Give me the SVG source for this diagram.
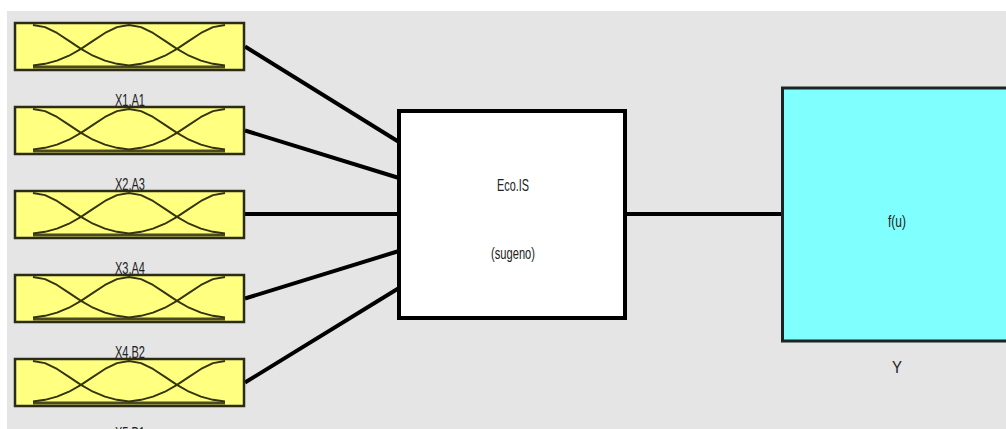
<svg xmlns="http://www.w3.org/2000/svg" width="1006" height="429" viewBox="0 0 1006 429">
<style>
.lbl{font-family:"Liberation Sans",Arial,sans-serif;fill:#222;text-anchor:middle}
.in{fill:#ffff80;stroke:#2b2b1a;stroke-width:2.5}
.mf{fill:none;stroke:#33330d;stroke-width:1.9;stroke-linejoin:round}
.base{stroke:#4a4a20;stroke-width:2.8}
.conn line{stroke:#000;stroke-width:4;stroke-linecap:butt}
</style>
<defs>
<g id="mfbox">
<rect class="in" x="1" y="1" width="229" height="47"/>
<line class="base" x1="19" y1="45" x2="211" y2="45"/>
<polyline class="mf" points="19,3 31,5.15 43,10.97 55,18.84 67,26.89 79,33.72 91,38.67 103,41.81 115,43.55"/>
<polyline class="mf" points="19,43.55 31,41.81 43,38.67 55,33.72 67,26.89 79,18.84 91,10.97 103,5.15 115,3 127,5.15 139,10.97 151,18.84 163,26.89 175,33.72 187,38.67 199,41.81 211,43.55"/>
<polyline class="mf" points="115,43.55 127,41.81 139,38.67 151,33.72 163,26.89 175,18.84 187,10.97 199,5.15 211,3"/>
</g>
</defs>
<rect x="0" y="0" width="1006" height="429" fill="#ffffff"/>
<rect x="7" y="11" width="999" height="418" fill="#e5e5e5"/>
<g class="conn" id="connectors">
<line x1="245" y1="46.5" x2="399" y2="142"/>
<line x1="245" y1="130.5" x2="399" y2="178"/>
<line x1="245" y1="214" x2="399" y2="214"/>
<line x1="245" y1="298.5" x2="399" y2="251"/>
<line x1="245" y1="382.5" x2="399" y2="288"/>
<line x1="625" y1="214" x2="783" y2="214"/>
</g>
<g id="in1"><use href="#mfbox" x="14" y="22"/><text class="lbl" x="130" y="106" font-size="16" textLength="30" lengthAdjust="spacingAndGlyphs">X1.A1</text></g>
<g id="in2"><use href="#mfbox" x="14" y="106"/><text class="lbl" x="130" y="190" font-size="16" textLength="30" lengthAdjust="spacingAndGlyphs">X2.A3</text></g>
<g id="in3"><use href="#mfbox" x="14" y="190"/><text class="lbl" x="130" y="274" font-size="16" textLength="30" lengthAdjust="spacingAndGlyphs">X3.A4</text></g>
<g id="in4"><use href="#mfbox" x="14" y="274"/><text class="lbl" x="130" y="358" font-size="16" textLength="30" lengthAdjust="spacingAndGlyphs">X4.B2</text></g>
<g id="in5"><use href="#mfbox" x="14" y="358"/><text class="lbl" x="130" y="439" font-size="16" textLength="30" lengthAdjust="spacingAndGlyphs">X5.B1</text></g>
<g id="fis">
<rect x="399" y="111" width="226" height="207" fill="#ffffff" stroke="#000" stroke-width="4"/>
<text class="lbl" x="513" y="191" font-size="17" textLength="32" lengthAdjust="spacingAndGlyphs">Eco.IS</text>
<text class="lbl" x="513" y="259" font-size="17" textLength="44" lengthAdjust="spacingAndGlyphs">(sugeno)</text>
</g>
<g id="out">
<rect x="782.5" y="88" width="300" height="253" fill="#80ffff" stroke="#1a2626" stroke-width="3"/>
<text class="lbl" x="897" y="227" font-size="17" textLength="18" lengthAdjust="spacingAndGlyphs">f(u)</text>
<text class="lbl" x="897" y="373" font-size="17" textLength="10" lengthAdjust="spacingAndGlyphs">Y</text>
</g>
</svg>
